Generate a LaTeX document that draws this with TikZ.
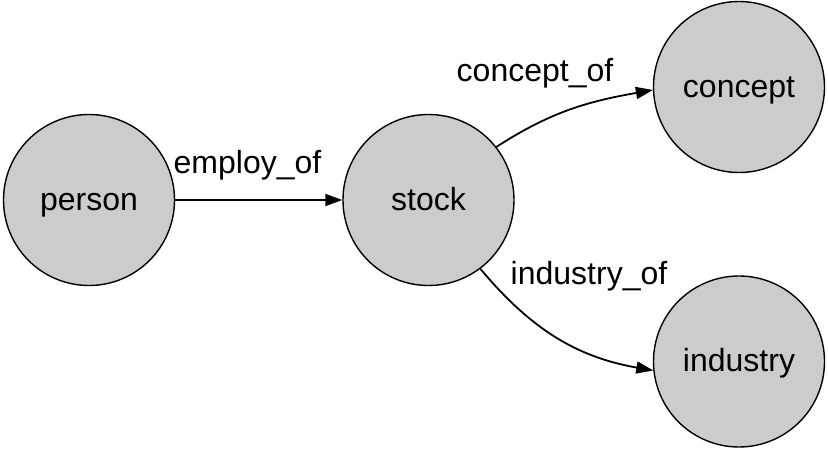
\documentclass[tikz,border=0pt]{standalone}
\usepackage{fontspec}
\setmainfont{Liberation Sans}
\usetikzlibrary{arrows.meta}
\definecolor{nodegray}{HTML}{CCCCCC}
\tikzset{
  ent/.style={circle, draw=black, fill=nodegray, line width=1.4pt, minimum size=171pt, inner sep=0pt, text height=29pt, text depth=8pt, font=\fontsize{32}{38}\selectfont},
  rel/.style={-{Triangle[length=17pt,width=12pt]}, line width=1.8pt},
  lbl/.style={anchor=base, inner sep=0pt, font=\fontsize{32}{38}\selectfont}
}
\begin{document}
\begin{tikzpicture}[x=1pt,y=1pt]
\useasboundingbox (0,0) rectangle (828,450);
\node[ent] (person) at (89,250) {person};
\node[ent] (stock) at (428.5,250) {stock};
\node[ent] (concept) at (739,363) {concept};
\node[ent] (industry) at (739,88.5) {industry};
\draw[rel] (person) -- (stock);
\draw[rel] (stock.38) to[out=33, in=190] (concept.182);
\draw[rel] (stock.-53) to[out=-50, in=170] (industry.186);
\node[lbl] (l1) at (247.5,276) {employ\_of};
\node[lbl] (l2) at (535,368) {concept\_of};
\node[lbl] (l3) at (589,165) {industry\_of};
\end{tikzpicture}
\end{document}
